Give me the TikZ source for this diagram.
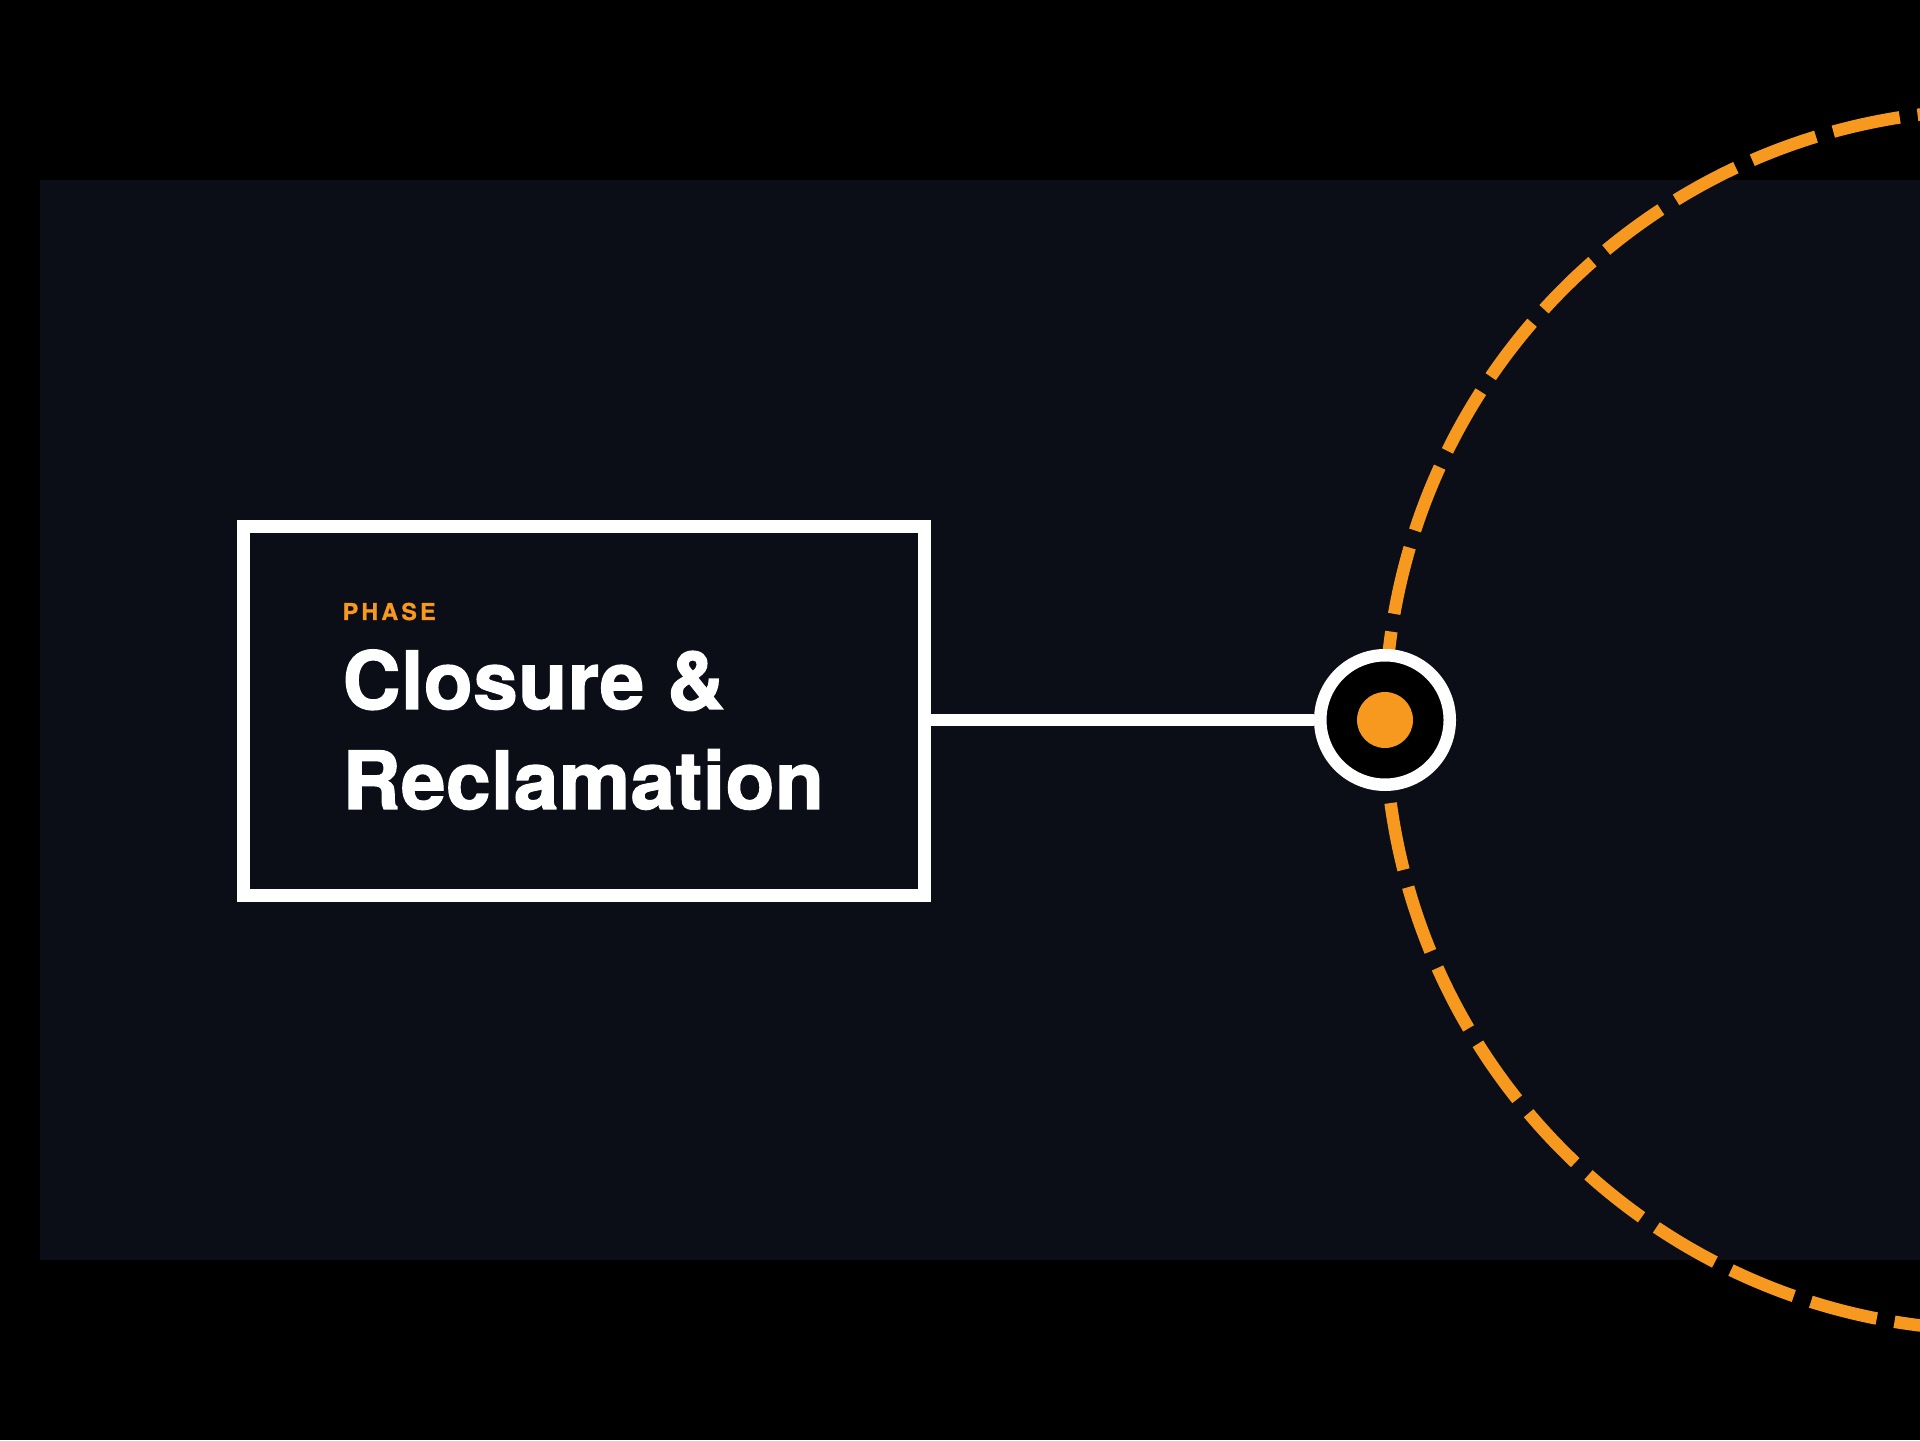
\documentclass[tikz,border=0pt]{standalone}
\usepackage{fontspec}
\setmainfont{TeX Gyre Heros}
\newfontfamily\phasefont[LetterSpace=14, FakeBold=1.2]{TeX Gyre Heros}
\newfontfamily\titlefont[FakeBold=1.6, LetterSpace=0.6]{TeX Gyre Heros}
\usepackage{tikz}
\usetikzlibrary{positioning}

\definecolor{panel}{HTML}{0B0E17}
\definecolor{amber}{HTML}{F7991F}

\tikzset{
  phasebox/.style={draw=white, line width=0.125cm, fill=panel, inner sep=0pt,
    minimum width=6.81cm, minimum height=3.69cm},
  hubring/.style={circle, draw=white, line width=0.125cm, fill=black,
    inner sep=0pt, minimum size=1.295cm},
  hubdot/.style={circle, fill=amber, inner sep=0pt, minimum size=0.56cm},
  link/.style={draw=white, line width=0.125cm},
  orbit/.style={draw=amber, line width=0.125cm,
    dash pattern=on 0.68cm off 0.18cm, dash phase=0.64cm}
}

\begin{document}
\begin{tikzpicture}

    \useasboundingbox (0,0) rectangle (19.2,14.4);

    \fill[black] (0,0) rectangle (19.2,14.4);

    \fill[panel] (0.4,1.8) rectangle (19.2,12.6);



    \begin{scope}

      \clip (0,0) rectangle (19.2,14.4);

      \draw[orbit] (19.95,7.20) circle [radius=6.10];

    \end{scope}



    \node[phasebox] (phase) at (5.84,7.29) {};

    \node[hubring] (hub) at (13.85,7.20) {};

    \node[hubdot] (core) at (hub.center) {};

    \draw[link] (hub.west) -- (hub.west -| phase.east);



    \node[anchor=base west, inner sep=0pt, text=amber] (tag) at (3.42,8.20)
      {\phasefont\bfseries\fontsize{6.6}{8}\selectfont PHASE};

    \node[anchor=base west, inner sep=0pt, text=white] (title1) at (3.42,7.31)
      {\titlefont\bfseries\fontsize{22.8}{28.45}\selectfont Closure \&};

    \node[anchor=base west, inner sep=0pt, text=white] (title2) at (3.42,6.31)
      {\titlefont\bfseries\fontsize{22.8}{28.45}\selectfont Reclamation};

  \end{tikzpicture}
\end{document}
